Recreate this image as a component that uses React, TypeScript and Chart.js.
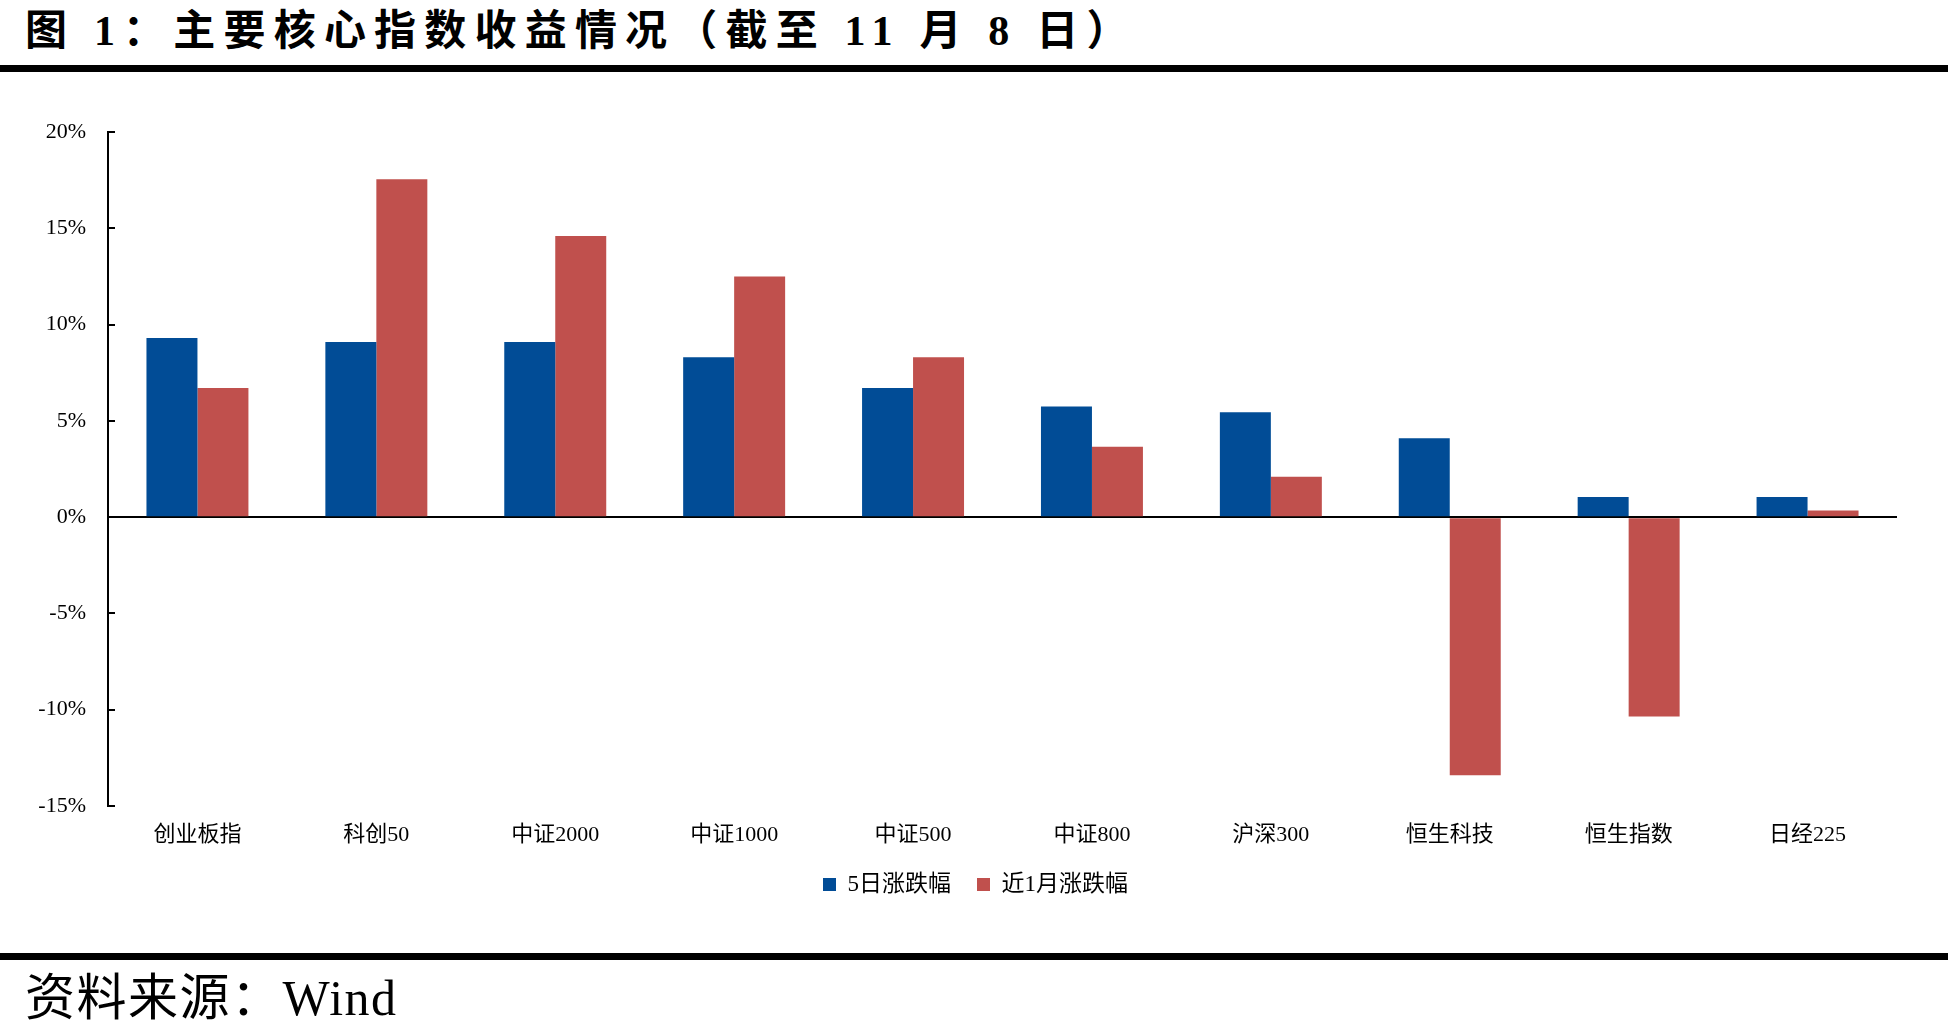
import React, { useEffect, useRef } from "react";
import { Chart, registerables } from "chart.js";

Chart.register(...registerables);

const categories = ["创业板指", "科创50", "中证2000", "中证1000", "中证500", "中证800", "沪深300", "恒生科技", "恒生指数", "日经225"];
const fiveDay = [9.3, 9.1, 9.1, 8.3, 6.7, 5.75, 5.45, 4.1, 1.05, 1.05];
const oneMonth = [6.7, 17.55, 14.6, 12.5, 8.3, 3.65, 2.1, -13.4, -10.35, 0.35];
const seriesNames = ["5日涨跌幅", "近1月涨跌幅"];
const yTicks = [20, 15, 10, 5, 0, -5, -10, -15];

const FONT = "'Liberation Serif', 'Noto Sans CJK SC', serif";

const inwardTicks = {
  id: "inwardTicks",
  afterDraw(chart: any) {
    const y = chart.scales.y;
    const ctx = chart.ctx;
    const x0 = chart.chartArea.left;
    ctx.save();
    ctx.strokeStyle = "#000";
    ctx.lineWidth = 2;
    yTicks.forEach((v) => {
      const py = Math.round(y.getPixelForValue(v));
      ctx.beginPath();
      ctx.moveTo(x0, py);
      ctx.lineTo(x0 + 7, py);
      ctx.stroke();
    });
    ctx.restore();
  },
};

const legendShift = {
  id: "legendShift",
  afterLayout(chart: any) {
    const lg = chart.legend;
    if (lg) {
      lg.left += 27;
      lg.right += 27;
    }
  },
};

function BarChart() {
  const ref = useRef<HTMLCanvasElement | null>(null);
  useEffect(() => {
    if (!ref.current) return;
    const chart = new Chart(ref.current, {
      type: "bar",
      data: {
        labels: categories,
        datasets: [
          { label: seriesNames[0], data: fiveDay, backgroundColor: "#014C96", borderWidth: 0 },
          { label: seriesNames[1], data: oneMonth, backgroundColor: "#C0504D", borderWidth: 0 },
        ],
      },
      options: {
        animation: false,
        responsive: false,
        maintainAspectRatio: false,
        layout: { padding: { top: 42, right: 51, bottom: 16, left: 0 } },
        datasets: { bar: { categoryPercentage: 0.57, barPercentage: 1.0 } } as any,
        plugins: {
          legend: {
            display: true,
            position: "bottom",
            labels: {
              boxWidth: 13,
              boxHeight: 13,
              color: "#000",
              padding: 26,
              font: { family: FONT, size: 23 },
            },
          },
          tooltip: { enabled: false },
        },
        scales: {
          x: {
            grid: { display: false, drawTicks: false },
            border: { display: false },
            ticks: { color: "#000", padding: 16, font: { family: FONT, size: 22 } },
            afterFit: (s: any) => { s.height = 41; },
          },
          y: {
            min: -15,
            max: 20,
            grid: {
              drawTicks: false,
              color: (c: any) => (c.tick && c.tick.value === 0 ? "#000" : "rgba(0,0,0,0)"),
              lineWidth: 2,
            },
            border: { display: true, color: "#000", width: 2 },
            ticks: {
              stepSize: 5,
              color: "#000",
              padding: 22,
              font: { family: FONT, size: 22 },
              callback: (v: any) => `${v}%`,
            },
            afterFit: (s: any) => { s.width = 108; },
          },
        },
      },
      plugins: [inwardTicks, legendShift],
    });
    return () => chart.destroy();
  }, []);
  return <canvas ref={ref} width={1948} height={832} style={{ position: "absolute", left: 0, top: 90, width: 1948, height: 832 }} />;
}

export default function App() {
  return (
    <div style={{ position: "fixed", left: 0, top: 0, width: 1948, height: 1031, background: "#fff", overflow: "hidden" }}>
      <div style={{ position: "absolute", left: 25, top: 10, fontFamily: FONT, fontWeight: "bold", fontSize: 42, lineHeight: "42px", letterSpacing: 8.2, whiteSpace: "nowrap", color: "#000" }}>
        图 1：主要核心指数收益情况（截至 11 月 8 日）
      </div>
      <div style={{ position: "absolute", left: 0, top: 65, width: 1948, height: 7, background: "#000" }} />
      <BarChart />
      <div style={{ position: "absolute", left: 0, top: 953, width: 1948, height: 7, background: "#000" }} />
      <div style={{ position: "absolute", left: 25, top: 973, fontFamily: FONT, fontSize: 50, lineHeight: "50px", letterSpacing: 1.5, whiteSpace: "nowrap", color: "#000" }}>
        资料来源：Wind
      </div>
    </div>
  );
}
